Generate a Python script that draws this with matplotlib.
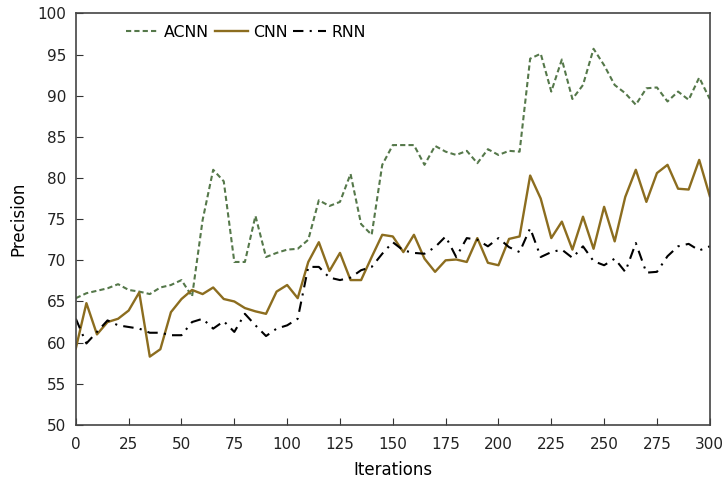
import matplotlib.pyplot as plt
import numpy as np

iterations = np.arange(0, 301, 5)

acnn = [65.4, 66.0, 66.3, 66.6, 67.1, 66.4, 66.2, 65.9, 66.7, 67.0,
        67.6, 65.6, 74.9, 81.0, 79.6, 69.8, 69.8, 75.4, 70.4, 70.9,
        71.3, 71.4, 72.5, 77.3, 76.6, 77.1, 80.5, 74.4, 73.1, 81.6,
        84.0, 84.0, 84.0, 81.6, 83.9, 83.2, 82.8, 83.3, 81.8, 83.5,
        82.8, 83.3, 83.2, 94.5, 95.1, 90.5, 94.4, 89.6, 91.3, 95.7,
        93.7, 91.3, 90.3, 88.9, 90.9, 91.0, 89.3, 90.5, 89.5, 92.2,
        89.6]

cnn = [59.3, 64.8, 61.0, 62.5, 62.9, 63.9, 66.1, 58.3, 59.2, 63.7,
       65.3, 66.4, 65.9, 66.7, 65.3, 65.0, 64.2, 63.8, 63.5, 66.2,
       67.0, 65.4, 69.8, 72.2, 68.7, 70.9, 67.6, 67.6, 70.4, 73.1,
       72.9, 71.0, 73.1, 70.2, 68.6, 70.0, 70.1, 69.8, 72.7, 69.7,
       69.4, 72.6, 72.9, 80.3, 77.5, 72.7, 74.7, 71.3, 75.3, 71.4,
       76.5, 72.3, 77.7, 81.0, 77.1, 80.6, 81.6, 78.7, 78.6, 82.2,
       77.8]

rnn = [62.9, 59.9, 61.3, 62.7, 62.1, 61.9, 61.7, 61.2, 61.2, 60.9,
       60.9, 62.5, 62.9, 61.7, 62.6, 61.3, 63.5, 62.1, 60.8, 61.7,
       62.1, 62.9, 69.2, 69.2, 67.9, 67.6, 67.9, 68.8, 69.2, 70.8,
       72.2, 71.2, 70.9, 70.8, 71.6, 72.9, 70.4, 72.7, 72.5, 71.7,
       72.7, 71.6, 71.0, 73.9, 70.4, 71.0, 71.3, 70.3, 71.7, 69.9,
       69.4, 70.2, 68.6, 72.1, 68.5, 68.6, 70.5, 71.7, 72.0, 71.2,
       71.7]

fig = plt.figure(figsize=(7.25, 4.78), dpi=100)
ax = fig.add_axes([0.1046, 0.111, 0.8744, 0.861])

ax.plot(iterations, acnn, color='#55784a', linestyle=(0, (2.5, 1.5)), linewidth=1.5, label='ACNN')
ax.plot(iterations, cnn, color='#8c6d1f', linestyle='-', linewidth=1.7, label='CNN')
ax.plot(iterations, rnn, color='black', linestyle=(0, (5, 3, 1, 3)), linewidth=1.5, label='RNN')

ax.set_xlim(0, 300)
ax.set_ylim(50, 100)
ax.set_xticks(np.arange(0, 301, 25))
ax.set_yticks(np.arange(50, 101, 5))
ax.tick_params(direction='in', length=5, labelsize=11, top=False, right=False,
               colors='#333333', labelcolor='#222222')
ax.tick_params(axis='x', pad=9)
ax.tick_params(axis='y', pad=7)
for s in ax.spines.values():
    s.set_color('#444444')
    s.set_linewidth(1.2)

ax.set_xlabel('Iterations', fontsize=12, labelpad=6)
ax.set_ylabel('Precision', fontsize=12, labelpad=7)

ax.legend(loc='upper left', bbox_to_anchor=(0.079, 0.972), ncol=3, frameon=False,
          fontsize=11.3, handlelength=2.1, columnspacing=0.35, handletextpad=0.35,
          borderaxespad=0, borderpad=0)

fig.savefig('out.png')
